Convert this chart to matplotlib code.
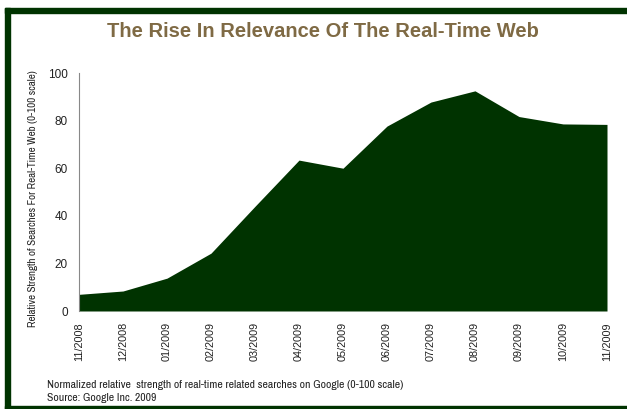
import matplotlib.pyplot as plt
from matplotlib.patches import Rectangle

months = ['11/2008', '12/2008', '01/2009', '02/2009', '03/2009', '04/2009', '05/2009',
          '06/2009', '07/2009', '08/2009', '09/2009', '10/2009', '11/2009']
strength = [7, 8.4, 13.8, 24.3, 44, 63.4, 60, 77.7, 87.8, 92.5, 81.7, 78.6, 78.4]

green = '#003300'
brown = '#7f6a44'
text_col = '#222222'
narrow = ['Archivo Narrow', 'Liberation Sans', 'DejaVu Sans']
wide = ['Liberation Sans', 'DejaVu Sans']

fig = plt.figure(figsize=(6.27, 4.09), dpi=100)
W, H = 627, 409

# frame on top, left and bottom only
fig.patches.append(Rectangle((5 / W, 1 - 13 / H), 1 - 5 / W, 5 / H, transform=fig.transFigure,
                             color=green, zorder=0))
fig.patches.append(Rectangle((5 / W, 0), 5 / W, 1 - 8 / H, transform=fig.transFigure,
                             color=green, zorder=0))
fig.patches.append(Rectangle((5 / W, 0), 1 - 5 / W, 3 / H, transform=fig.transFigure,
                             color=green, zorder=0))

ax = fig.add_axes([79 / W, 1 - 311 / H, (607 - 79) / W, (311 - 73) / H])
x = list(range(len(months)))
ax.fill_between(x, strength, 0, color=green, linewidth=0)
ax.set_xlim(0, len(months) - 1)
ax.set_ylim(0, 100)
ax.set_yticks([0, 20, 40, 60, 80, 100])
ax.set_xticks(x)
ax.set_xticklabels(months, rotation=90, family=wide, fontsize=7.8, color=text_col)
for t in ax.get_yticklabels():
    t.set_family(wide)
    t.set_fontsize(8.5)
    t.set_color(text_col)
ax.tick_params(length=0)
ax.tick_params(axis='y', pad=8)
ax.tick_params(axis='x', pad=8)
for s in ['top', 'right', 'bottom']:
    ax.spines[s].set_visible(False)
ax.spines['left'].set_color('#888888')
ax.spines['left'].set_linewidth(0.8)

fig.text(33 / W, 1 - 199 / H, 'Relative Strength of Searches For Real-Time Web (0-100 scale)',
         rotation=90, ha='center', va='center', family=narrow, fontsize=7.9, color=text_col)

fig.text(323 / W, 1 - 31.5 / H, 'The Rise In Relevance Of The Real-Time Web', ha='center', va='center',
         family=wide, fontweight='bold', fontsize=14.5, color=brown)
fig.text(47 / W, 1 - 385 / H, 'Normalized relative  strength of real-time related searches on Google (0-100 scale)',
         family=narrow, fontsize=8.4, va='center', color=text_col)
fig.text(47 / W, 1 - 398 / H, 'Source: Google Inc. 2009',
         family=narrow, fontsize=8.4, va='center', color=text_col)

fig.savefig('out.png', dpi=100)
